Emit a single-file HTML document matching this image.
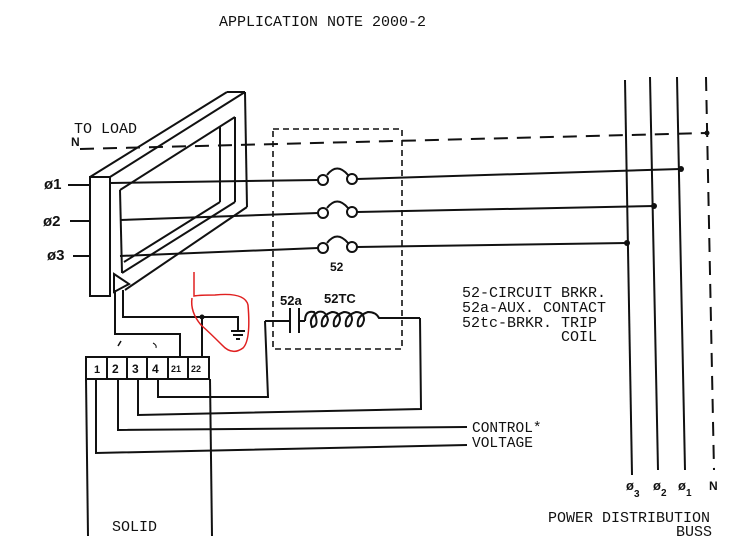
<!DOCTYPE html>
<html><head><style>
html,body{margin:0;padding:0;background:#fff;}
svg{display:block;}
text{font-family:"Liberation Mono",monospace;fill:#111;}
.b{font-family:"Liberation Sans",sans-serif;font-weight:bold;}
</style></head><body>
<svg width="734" height="536" viewBox="0 0 734 536" xmlns="http://www.w3.org/2000/svg">
<g stroke="#111" stroke-width="2" fill="none">
<line x1="625" y1="80" x2="632" y2="475"/>
<line x1="650" y1="77" x2="658" y2="470"/>
<line x1="677" y1="77" x2="685" y2="470"/>
<line x1="706" y1="77" x2="714" y2="470" stroke-dasharray="14,9"/>
<line x1="80" y1="149" x2="708" y2="133" stroke-dasharray="14,9"/>
<line x1="110" y1="183" x2="318" y2="180"/>
<line x1="357" y1="179" x2="680" y2="169"/>
<line x1="120" y1="220" x2="318" y2="213"/>
<line x1="357" y1="212" x2="654" y2="206"/>
<line x1="120" y1="256" x2="318" y2="248"/>
<line x1="357" y1="247" x2="627" y2="243"/>
<line x1="68" y1="185" x2="90" y2="185"/>
<line x1="70" y1="221" x2="90" y2="221"/>
<line x1="73" y1="256" x2="90" y2="256"/>
<circle cx="323" cy="180" r="5"/><circle cx="352" cy="179" r="5"/><path d="M327 175 Q337 162 348 175"/>
<circle cx="323" cy="213" r="5"/><circle cx="352" cy="212" r="5"/><path d="M327 208 Q337 195 348 208"/>
<circle cx="323" cy="248" r="5"/><circle cx="352" cy="247" r="5"/><path d="M327 243 Q337 230 348 243"/>
<polygon points="90,177 110,177 110,296 90,296" fill="#fff"/>
<line x1="90" y1="177" x2="227" y2="92"/>
<line x1="110" y1="177" x2="245" y2="92"/>
<line x1="227" y1="92" x2="245" y2="92"/>
<line x1="245" y1="92" x2="247" y2="207"/>
<line x1="247" y1="207" x2="125" y2="290"/>
<line x1="120" y1="190" x2="235" y2="117"/>
<line x1="120" y1="190" x2="122" y2="273"/>
<line x1="122" y1="273" x2="235" y2="202"/>
<line x1="235" y1="117" x2="235" y2="202"/>
<line x1="220" y1="127" x2="220" y2="202"/>
<line x1="124" y1="262" x2="220" y2="202"/>
<polygon points="114,274 129,284 114,292"/>
<rect x="273" y="129" width="129" height="220" stroke-width="1.6" stroke-dasharray="6,4"/>
<line x1="265" y1="321" x2="290" y2="321"/>
<line x1="290" y1="308" x2="290" y2="333"/>
<line x1="299" y1="308" x2="299" y2="333"/>
<line x1="299" y1="321" x2="305" y2="321"/>
<path d="M305 321 Q305 310 314 312 Q320 326 312 327 Q308 318 318 312 Q326 310 328 320 Q326 328 322 326 Q320 316 332 312 Q340 312 340 320 Q338 328 334 326 Q332 316 344 312 Q352 312 352 320 Q350 328 346 326 Q344 316 356 312 Q364 312 364 320 Q362 328 358 326 Q356 316 368 312 Q376 312 379 318 L420 318"/>
<polyline points="265,321 268,397 158,397 158,379"/>
<polyline points="138,379 138,415 421,409 420,318"/>
<polyline points="118,379 118,430 467,427"/>
<polyline points="96,379 96,453 467,445"/>
<line x1="86" y1="379" x2="88" y2="536"/>
<line x1="210" y1="379" x2="212" y2="536"/>
<rect x="86" y="357" width="123" height="22" fill="#fff"/>
<line x1="107" y1="357" x2="107" y2="379"/><line x1="127" y1="357" x2="127" y2="379"/>
<line x1="147" y1="357" x2="147" y2="379"/><line x1="168" y1="357" x2="168" y2="379"/>
<line x1="188" y1="357" x2="188" y2="379"/>
<polyline points="115,290 115,334 180,334 180,357"/>
<polyline points="123,290 123,317 238,317 238,330"/>
<line x1="202" y1="317" x2="202" y2="357"/>
<line x1="231" y1="331" x2="245" y2="331"/><line x1="233" y1="335" x2="243" y2="335"/><line x1="236" y1="339" x2="240" y2="339"/>
<path d="M118 346 L121 341" stroke-width="1.5"/>
<path d="M153 343 Q157 345 156 348" stroke-width="1"/>
</g>
<circle cx="202" cy="317" r="2.5" fill="#111"/>
<circle cx="681" cy="169" r="3" fill="#111"/>
<circle cx="654" cy="206" r="3" fill="#111"/>
<circle cx="627" cy="243" r="3" fill="#111"/>
<circle cx="707" cy="133" r="2.5" fill="#111"/>
<path d="M194 272 L194 296 Q200 295 215 295 Q245 292 248 305 Q251 340 243 348 Q232 356 222 345 Q210 333 201 325 Q190 312 192 298" stroke="#e02020" stroke-width="1.5" fill="none"/>
<text x="219" y="26" font-size="15">APPLICATION NOTE 2000-2</text>
<text x="74" y="133" font-size="15">TO LOAD</text>
<text x="71" y="146" font-size="12" class="b">N</text>
<text x="44" y="189" font-size="15" class="b">ø1</text>
<text x="43" y="226" font-size="15" class="b">ø2</text>
<text x="47" y="260" font-size="15" class="b">ø3</text>
<text x="330" y="271" font-size="12" class="b">52</text>
<text x="280" y="305" font-size="13" class="b">52a</text>
<text x="324" y="303" font-size="13" class="b">52TC</text>
<text x="94" y="373" font-size="11" class="b">1</text>
<text x="112" y="373" font-size="12" class="b">2</text>
<text x="132" y="373" font-size="12" class="b">3</text>
<text x="152" y="373" font-size="12" class="b">4</text>
<text x="171" y="372" font-size="9" class="b">21</text>
<text x="191" y="372" font-size="9" class="b">22</text>
<text x="462" y="297" font-size="15">52-CIRCUIT BRKR.</text>
<text x="462" y="312" font-size="15">52a-AUX. CONTACT</text>
<text x="462" y="327" font-size="15">52tc-BRKR. TRIP</text>
<text x="561" y="341" font-size="15">COIL</text>
<text x="472" y="432" font-size="14.5">CONTROL*</text>
<text x="472" y="447" font-size="14.5">VOLTAGE</text>
<text x="112" y="531" font-size="15">SOLID</text>
<text x="548" y="522" font-size="15">POWER DISTRIBUTION</text>
<text x="676" y="536" font-size="15">BUSS</text>
<text x="626" y="490" font-size="13" class="b">ø</text><text x="634" y="497" font-size="10" class="b">3</text>
<text x="653" y="490" font-size="13" class="b">ø</text><text x="661" y="496" font-size="10" class="b">2</text>
<text x="678" y="490" font-size="13" class="b">ø</text><text x="686" y="496" font-size="10" class="b">1</text>
<text x="709" y="490" font-size="12" class="b">N</text>
</svg>
</body></html>
